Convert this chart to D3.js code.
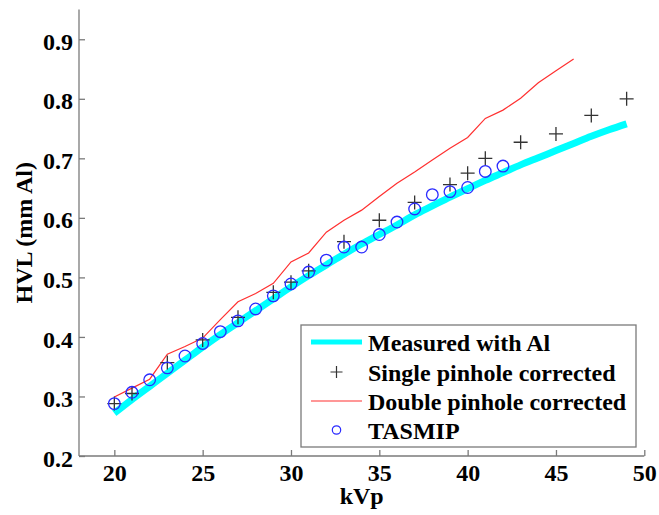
<!DOCTYPE html>
<html>
<head>
<meta charset="utf-8">
<script src="https://cdn.jsdelivr.net/npm/d3@7"></script>
<style>
  html, body { margin: 0; padding: 0; background: #fff; }
  svg text { font-family: "Liberation Serif", "Times New Roman", serif; font-weight: bold; fill: #000; }
</style>
</head>
<body>
<svg id="chart" width="659" height="515"></svg>
<script>
// HVL versus tube potential
const measuredKvp = [20,21,22,23,24,25,26,27,28,29,30,31,32,33,34,35,36,37,38,39,40,41,42,43,44,45,46,47,48,49];
const measuredHvl = [0.272,0.295,0.317,0.339,0.361,0.383,0.404,0.424,0.444,0.464,0.484,0.503,0.521,0.539,0.556,0.572,0.588,0.605,0.620,0.635,0.649,0.663,0.676,0.689,0.701,0.713,0.725,0.737,0.748,0.758];

const singleKvp = [20,21,23,25,27,29,30,31,33,35,37,39,40,41,43,45,47,49];
const singleHvl = [0.288,0.305,0.357,0.395,0.433,0.475,0.492,0.511,0.560,0.596,0.626,0.656,0.675,0.700,0.727,0.741,0.772,0.800];

const doubleKvp = [20,21,22,23,24,25,26,27,28,29,30,31,32,33,34,35,36,37,38,39,40,41,42,43,44,45,46];
const doubleHvl = [0.299,0.314,0.329,0.371,0.384,0.398,0.429,0.459,0.473,0.490,0.526,0.541,0.576,0.596,0.613,0.636,0.658,0.677,0.697,0.717,0.735,0.767,0.781,0.801,0.827,0.847,0.867];

const tasmipKvp = [20,21,22,23,24,25,26,27,28,29,30,31,32,33,34,35,36,37,38,39,40,41,42];
const tasmipHvl = [0.288,0.307,0.328,0.348,0.368,0.389,0.409,0.427,0.447,0.469,0.489,0.509,0.529,0.551,0.551,0.572,0.593,0.615,0.639,0.644,0.651,0.678,0.687];

const xTicks = [20,25,30,35,40,45,50];
const yTicks = [0.2,0.3,0.4,0.5,0.6,0.7,0.8,0.9];
const legendLabels = ["Measured with Al","Single pinhole corrected","Double pinhole corrected","TASMIP"];

const svg = d3.select("#chart");
const plot = { left: 79, right: 644.3, top: 9.5, bottom: 456 };

const x = d3.scaleLinear().domain([18, 50]).range([plot.left, plot.right]);
const y = d3.scaleLinear().domain([0.2, 0.95]).range([plot.bottom, plot.top]);

const axisColor = "#7a7a7a";

// x axis
const xAxis = svg.append("g")
  .attr("transform", `translate(0,${plot.bottom})`)
  .call(d3.axisBottom(x).tickValues(xTicks).tickSizeInner(-6).tickSizeOuter(0).tickPadding(12).tickFormat(d3.format("d")));
xAxis.select(".domain").attr("stroke", axisColor).attr("stroke-width", 1.3)
  .attr("d", `M${plot.left},0H${plot.right}`);
xAxis.selectAll(".tick line").attr("stroke", axisColor).attr("stroke-width", 1.3);
xAxis.selectAll(".tick text").attr("font-size", 24).attr("dy", "0.71em").attr("y", 8)
  .attr("font-family", "Liberation Serif").attr("font-weight", "bold").attr("fill", "#000");

// y axis
const yAxis = svg.append("g")
  .attr("transform", `translate(${plot.left},0)`)
  .call(d3.axisLeft(y).tickValues(yTicks).tickSizeInner(-6).tickSizeOuter(0).tickPadding(6).tickFormat(d3.format(".1f")));
yAxis.select(".domain").attr("stroke", axisColor).attr("stroke-width", 1.3)
  .attr("d", `M0,${plot.bottom}V${plot.top}`);
yAxis.selectAll(".tick line").attr("stroke", axisColor).attr("stroke-width", 1.3);
yAxis.selectAll(".tick text").attr("font-size", 24).attr("dy", "0.42em").attr("x", -6)
  .attr("font-family", "Liberation Serif").attr("font-weight", "bold").attr("fill", "#000");

// axis titles
svg.append("text").attr("x", (plot.left + plot.right) / 2).attr("y", 504)
  .attr("text-anchor", "middle").attr("font-size", 24).text("kVp");
svg.append("text").attr("transform", `translate(32,${(plot.top + plot.bottom) / 2}) rotate(-90)`)
  .attr("text-anchor", "middle").attr("font-size", 24).text("HVL (mm Al)");

const line = d3.line().x(d => x(d[0])).y(d => y(d[1]));

// measured curve
svg.append("path")
  .datum(d3.zip(measuredKvp, measuredHvl))
  .attr("d", line.curve(d3.curveMonotoneX))
  .attr("fill", "none").attr("stroke", "#00ffff").attr("stroke-width", 7);

// double pinhole corrected
svg.append("path")
  .datum(d3.zip(doubleKvp, doubleHvl))
  .attr("d", d3.line().x(d => x(d[0])).y(d => y(d[1])))
  .attr("fill", "none").attr("stroke", "#ff3030").attr("stroke-width", 1.2);

// single pinhole corrected: plus markers
const cross = 7;
svg.append("g").selectAll("path")
  .data(d3.zip(singleKvp, singleHvl))
  .join("path")
  .attr("d", d => {
    const cx = x(d[0]), cy = y(d[1]);
    return `M${cx - cross},${cy}H${cx + cross}M${cx},${cy - cross}V${cy + cross}`;
  })
  .attr("stroke", "#333").attr("stroke-width", 1.3).attr("fill", "none");

// TASMIP: open circles
svg.append("g").selectAll("circle")
  .data(d3.zip(tasmipKvp, tasmipHvl))
  .join("circle")
  .attr("cx", d => x(d[0])).attr("cy", d => y(d[1])).attr("r", 5.8)
  .attr("fill", "none").attr("stroke", "#2a2aff").attr("stroke-width", 1.3);

// legend
const lg = svg.append("g");
lg.append("rect").attr("x", 301).attr("y", 325).attr("width", 335).attr("height", 122)
  .attr("fill", "#fff").attr("stroke", axisColor).attr("stroke-width", 1.3);
const rowY = [342, 372, 401, 430];
const symX0 = 311, symX1 = 362, symC = 336.5, textX = 368;
lg.append("line").attr("x1", symX0).attr("x2", symX1).attr("y1", rowY[0]).attr("y2", rowY[0])
  .attr("stroke", "#00ffff").attr("stroke-width", 5);
lg.append("path").attr("d", `M${symC - 6},${rowY[1]}H${symC + 6}M${symC},${rowY[1] - 6}V${rowY[1] + 6}`)
  .attr("stroke", "#333").attr("stroke-width", 1.2);
lg.append("line").attr("x1", symX0).attr("x2", symX1).attr("y1", rowY[2]).attr("y2", rowY[2])
  .attr("stroke", "#ff3030").attr("stroke-width", 1.2);
lg.append("circle").attr("cx", symC).attr("cy", rowY[3]).attr("r", 4.2)
  .attr("fill", "none").attr("stroke", "#2a2aff").attr("stroke-width", 1.2);
lg.selectAll("text.lbl").data(legendLabels).join("text").attr("class", "lbl")
  .attr("x", textX).attr("y", (d, i) => rowY[i] + 8.5).attr("font-size", 24).text(d => d);
</script>
</body>
</html>
